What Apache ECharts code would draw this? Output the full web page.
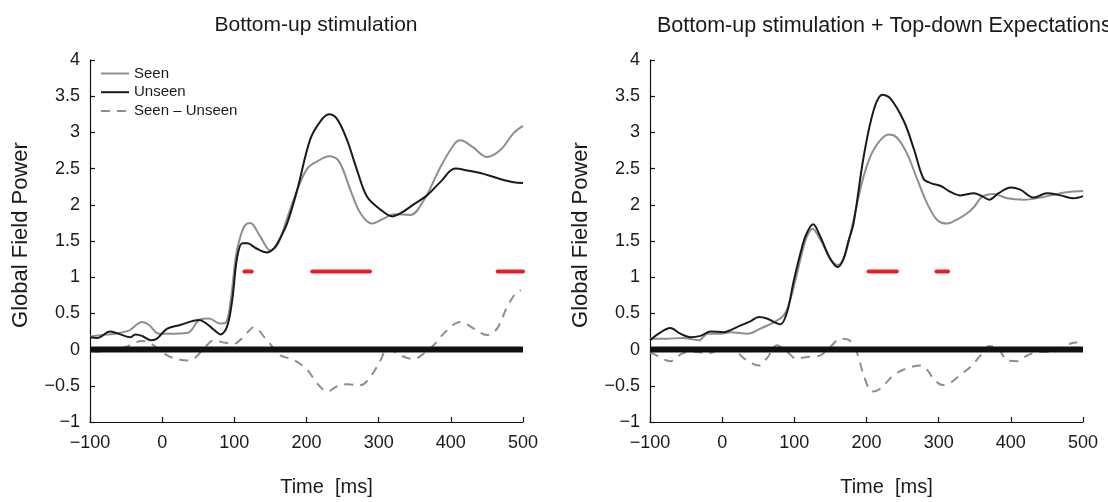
<!DOCTYPE html>
<html>
<head>
<meta charset="utf-8">
<script src="https://cdn.jsdelivr.net/npm/echarts@6/dist/echarts.min.js"></script>
<style>
html,body{margin:0;padding:0;background:#fff;}
#chart{width:1108px;height:502px;}
</style>
</head>
<body>
<div id="chart"></div>
<script>
// ---------- data (time in ms, value = global field power) ----------
const titles = ['Bottom-up stimulation', 'Bottom-up stimulation + Top-down Expectations'];
const seriesNames = ['Seen', 'Unseen', 'Seen – Unseen'];
const xTicks = [-100, 0, 100, 200, 300, 400, 500];
const yTicks = [-1, -0.5, 0, 0.5, 1, 1.5, 2, 2.5, 3, 3.5, 4];

const leftSeen = [[-100,0.18],[-85,0.20],[-65,0.22],[-45,0.27],[-28,0.38],[-18,0.34],[-5,0.22],[10,0.22],[35,0.23],[53,0.42],[65,0.43],[80,0.36],[88,0.37],[95,0.68],[102,1.28],[108,1.55],[115,1.72],[122,1.75],[136,1.56],[150,1.37],[160,1.45],[173,1.81],[187,2.2],[201,2.5],[215,2.6],[231,2.67],[245,2.6],[261,2.2],[275,1.88],[291,1.74],[307,1.81],[321,1.87],[344,1.86],[363,2.07],[386,2.53],[405,2.84],[413,2.89],[430,2.80],[450,2.66],[469,2.76],[487,2.99],[500,3.09]];
const leftUnseen = [[-100,0.17],[-90,0.16],[-72,0.25],[-58,0.21],[-44,0.17],[-37,0.21],[-28,0.19],[-16,0.13],[-9,0.14],[7,0.29],[25,0.34],[51,0.41],[60,0.37],[72,0.27],[81,0.21],[90,0.32],[97,0.68],[104,1.28],[111,1.47],[118,1.47],[130,1.40],[145,1.34],[155,1.40],[162,1.51],[173,1.74],[187,2.2],[205,2.9],[219,3.15],[231,3.25],[242,3.19],[256,2.9],[270,2.48],[284,2.11],[303,1.93],[319,1.84],[330,1.88],[349,2.01],[367,2.13],[386,2.32],[406,2.50],[425,2.47],[441,2.44],[464,2.37],[487,2.31],[500,2.30]];
const leftDiff = [[-100,-0.02],[-85,-0.03],[-70,-0.01],[-50,0.04],[-28,0.12],[-15,0.08],[7,-0.08],[25,-0.14],[35,-0.15],[45,-0.12],[60,0.04],[72,0.13],[85,0.10],[99,0.08],[113,0.18],[127,0.31],[145,0.13],[164,-0.08],[182,-0.14],[201,-0.28],[215,-0.47],[229,-0.58],[242,-0.51],[256,-0.48],[275,-0.49],[289,-0.37],[303,-0.14],[312,0.02],[330,-0.08],[349,-0.13],[363,-0.05],[376,0.06],[395,0.27],[413,0.38],[432,0.29],[450,0.2],[464,0.29],[478,0.59],[490,0.78],[497,0.82]];

const rightSeen = [[-100,0.15],[-77,0.15],[-55,0.16],[-32,0.13],[-20,0.22],[-2,0.22],[12,0.24],[35,0.22],[53,0.29],[72,0.38],[85,0.47],[92,0.61],[102,0.98],[111,1.35],[117,1.55],[125,1.67],[136,1.52],[150,1.25],[160,1.17],[170,1.3],[182,1.79],[196,2.39],[210,2.76],[231,2.97],[242,2.93],[256,2.71],[270,2.36],[284,2.02],[298,1.79],[312,1.74],[326,1.80],[339,1.88],[349,1.97],[360,2.11],[376,2.15],[395,2.09],[418,2.07],[441,2.10],[464,2.15],[483,2.18],[500,2.19]];
const rightUnseen = [[-100,0.13],[-88,0.22],[-72,0.30],[-58,0.22],[-44,0.17],[-30,0.19],[-16,0.25],[2,0.24],[14,0.28],[25,0.33],[39,0.39],[51,0.45],[62,0.43],[72,0.38],[81,0.35],[90,0.52],[99,0.94],[109,1.35],[116,1.58],[126,1.73],[136,1.56],[150,1.25],[160,1.14],[168,1.25],[175,1.5],[182,1.74],[196,2.66],[210,3.31],[222,3.52],[233,3.47],[252,3.15],[266,2.76],[279,2.36],[289,2.30],[303,2.26],[316,2.18],[330,2.13],[349,2.16],[360,2.12],[370,2.07],[383,2.16],[400,2.24],[413,2.21],[432,2.10],[450,2.16],[469,2.13],[487,2.09],[500,2.12]];
const rightDiff = [[-100,-0.04],[-95,-0.06],[-72,-0.16],[-55,-0.05],[-40,-0.03],[-20,-0.05],[2,0.01],[16,0.0],[30,-0.12],[51,-0.22],[62,-0.12],[76,0.06],[90,-0.03],[102,-0.12],[120,-0.1],[136,-0.08],[150,0.04],[164,0.15],[176,0.13],[187,-0.05],[196,-0.35],[208,-0.58],[219,-0.54],[238,-0.35],[256,-0.26],[275,-0.22],[284,-0.28],[293,-0.4],[305,-0.49],[316,-0.46],[330,-0.35],[344,-0.24],[358,-0.08],[370,0.05],[383,0.01],[395,-0.15],[409,-0.16],[423,-0.08],[441,-0.03],[460,-0.03],[478,0.07],[492,0.1]];

const leftSig = [[114,124],[208,288],[465,500]];
const rightSig = [[203,242],[297,313]];
const sigLevel = 1.08;
const zeroLine = [[-100,0],[500,0]];

// ---------- styling ----------
const FONT = 'Liberation Sans, Arial, sans-serif';
const minusFmt = v => String(v).replace('-', '\u2212');
const panels = [
  {left: 90, seen: leftSeen, unseen: leftUnseen, diff: leftDiff, sig: leftSig},
  {left: 650, seen: rightSeen, unseen: rightUnseen, diff: rightDiff, sig: rightSig}
];

const grids = [], xAxes = [], yAxes = [], series = [];
panels.forEach((p, i) => {
  grids.push({left: p.left, top: 60, width: 433, height: 362, containLabel: false});
  xAxes.push({
    type: 'value', gridIndex: i, min: xTicks[0], max: xTicks[xTicks.length - 1], interval: 100,
    axisLine: {show: true, onZero: false, lineStyle: {color: '#111', width: 1.2}},
    axisTick: {show: true, inside: true, length: 5, lineStyle: {color: '#111', width: 1.2}},
    axisLabel: {margin: 12, fontSize: 18, color: '#1a1a1a', fontFamily: FONT, formatter: minusFmt},
    splitLine: {show: false},
    name: 'Time  [ms]', nameLocation: 'middle', nameGap: 55,
    nameTextStyle: {fontSize: 20, color: '#1a1a1a', fontFamily: FONT, padding: [0, 0, 0, 40]}
  });
  yAxes.push({
    type: 'value', gridIndex: i, min: yTicks[0], max: yTicks[yTicks.length - 1], interval: 0.5,
    axisLine: {show: true, onZero: false, lineStyle: {color: '#111', width: 1.2}},
    axisTick: {show: true, inside: true, length: 5, lineStyle: {color: '#111', width: 1.2}},
    axisLabel: {margin: 10, fontSize: 18, color: '#1a1a1a', fontFamily: FONT, formatter: minusFmt},
    splitLine: {show: false},
    name: 'Global Field Power', nameLocation: 'middle', nameGap: 58,
    nameTextStyle: {fontSize: 22, color: '#1a1a1a', fontFamily: FONT, padding: [0, 0, 0, 12]}
  });
  const base = {type: 'line', xAxisIndex: i, yAxisIndex: i, symbol: 'none', smooth: 0.35, silent: true, animation: false};
  series.push(Object.assign({}, base, {name: seriesNames[2], data: p.diff, z: 2,
    lineStyle: {color: '#8e8e8e', width: 2, type: [9, 7]}, itemStyle: {color: '#8e8e8e'}}));
  series.push(Object.assign({}, base, {name: 'zero', data: zeroLine, smooth: false, z: 3,
    lineStyle: {color: '#111', width: 6}}));
  series.push(Object.assign({}, base, {name: seriesNames[0], data: p.seen, z: 4,
    lineStyle: {color: '#8e8e8e', width: 2}, itemStyle: {color: '#8e8e8e'}}));
  series.push(Object.assign({}, base, {name: seriesNames[1], data: p.unseen, z: 5,
    lineStyle: {color: '#1a1a1a', width: 2}, itemStyle: {color: '#1a1a1a'}}));
  p.sig.forEach(r => {
    series.push(Object.assign({}, base, {name: 'sig', data: [[r[0], sigLevel], [r[1], sigLevel]], smooth: false, z: 6,
      lineStyle: {color: '#ec1c24', width: 4, cap: 'round'}}));
  });
});

const chart = echarts.init(document.getElementById('chart'), null, {renderer: 'canvas'});
chart.setOption({
  backgroundColor: '#fff',
  animation: false,
  title: [
    {text: titles[0], left: 311, top: 10, textAlign: 'center',
      textStyle: {fontSize: 21, fontWeight: 'normal', color: '#1a1a1a', fontFamily: FONT}},
    {text: titles[1], left: 652, top: 10,
      textStyle: {fontSize: 21.5, fontWeight: 'normal', color: '#1a1a1a', fontFamily: FONT}}
  ],
  legend: {
    data: seriesNames, orient: 'vertical', left: 100, top: 66, padding: 0,
    itemWidth: 28, itemHeight: 14, itemGap: 3.7, selectedMode: false,
    itemStyle: {opacity: 0},
    textStyle: {fontSize: 15, color: '#1a1a1a', fontFamily: FONT, lineHeight: 14}
  },
  grid: grids, xAxis: xAxes, yAxis: yAxes, series: series
});
</script>
</body>
</html>
